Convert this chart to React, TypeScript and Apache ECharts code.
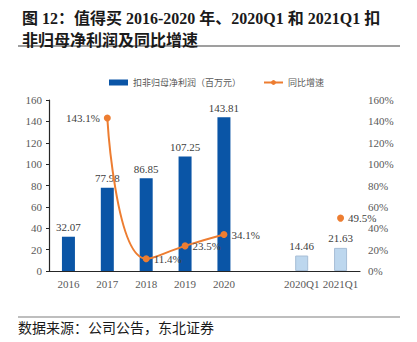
import React, { useEffect, useRef } from "react";
import * as echarts from "echarts";

const categories = ["2016", "2017", "2018", "2019", "2020", "", "2020Q1", "2021Q1"];
const netProfit = [32.07, 77.98, 86.85, 107.25, 143.81, null, 14.46, 21.63];
const growth = [null, 143.1, 11.4, 23.5, 34.1, null, null, 49.5];
const leftTicks = { min: 0, max: 160, interval: 20 };
const rightTicks = { min: 0, max: 160, interval: 20 };

const titleText = "图 12：值得买 2016-2020 年、2020Q1 和 2021Q1 扣\n非归母净利润及同比增速";
const sourceText = "数据来源：公司公告，东北证券";
const barName = "扣非归母净利润（百万元）";
const lineName = "同比增速";

const SERIF = "'Liberation Serif', 'Times New Roman', 'Noto Serif CJK SC', 'Noto Sans CJK SC', serif";
const CJK = "'Liberation Serif', 'Noto Sans CJK SC', sans-serif";

export default function App() {
  const ref = useRef<HTMLDivElement>(null);
  useEffect(() => {
    if (!ref.current) return;
    const chart = echarts.init(ref.current, undefined, { renderer: "svg" });
    const barData = netProfit.map((v, i) => {
      const isQ = categories[i].includes("Q1");
      return {
        value: v,
        itemStyle: isQ
          ? { color: "#BDD7EE", borderColor: "#A6BDD6", borderWidth: 1 }
          : { color: "#0A55A6" },
      };
    });
    chart.setOption({
      animation: false,
      title: {
        text: titleText,
        left: 17,
        top: 2,
        textStyle: {
          fontFamily: CJK,
          fontWeight: "bold",
          fontSize: 16,
          lineHeight: 22,
          color: "#1a1a1a",
        },
      },
      graphic: [
        {
          type: "line",
          shape: { x1: 18, y1: 46, x2: 400, y2: 46 },
          style: { stroke: "#7f7f7f", lineWidth: 1.5 },
        },
        {
          type: "line",
          shape: { x1: 18, y1: 317, x2: 400, y2: 317 },
          style: { stroke: "#7f7f7f", lineWidth: 1.2 },
        },
        {
          type: "text",
          left: 18,
          top: 321,
          style: {
            text: sourceText,
            fontFamily: CJK,
            fontSize: 14,
            fill: "#1a1a1a",
          },
        },
      ],
      legend: {
        left: 104,
        top: 73,
        itemGap: 22,
        itemWidth: 19,
        itemHeight: 6,
        textStyle: { fontSize: 9, color: "#595959", fontFamily: CJK },
        data: [
          { name: barName, icon: "rect" },
          { name: lineName },
        ],
      },
      grid: { left: 49, right: 57, top: 100, bottom: 71, containLabel: false },
      xAxis: {
        type: "category",
        data: categories,
        axisLine: { lineStyle: { color: "#262626", width: 1.2 } },
        axisTick: { show: false },
        axisLabel: {
          fontFamily: SERIF,
          fontSize: 11,
          color: "#595959",
          margin: 7,
          interval: 0,
        },
      },
      yAxis: [
        {
          type: "value",
          ...leftTicks,
          axisLine: { show: true, lineStyle: { color: "#262626", width: 1.2 } },
          axisTick: { show: true, length: 3, lineStyle: { color: "#262626" } },
          splitLine: { show: false },
          axisLabel: { fontFamily: SERIF, fontSize: 11, color: "#595959", margin: 7 },
        },
        {
          type: "value",
          ...rightTicks,
          axisLine: { show: false },
          axisTick: { show: false },
          splitLine: { show: false },
          axisLabel: {
            fontFamily: SERIF,
            fontSize: 11,
            color: "#595959",
            margin: 8,
            formatter: "{value}%",
          },
        },
      ],
      series: [
        {
          name: barName,
          type: "bar",
          data: barData,
          barWidth: 13,
          itemStyle: { color: "#0A55A6" },
          label: {
            show: true,
            position: "top",
            distance: 4,
            fontFamily: SERIF,
            fontSize: 11,
            color: "#404040",
            formatter: (p: any) => (p.value == null ? "" : Number(p.value).toFixed(2)),
          },
        },
        {
          name: lineName,
          type: "line",
          yAxisIndex: 1,
          data: growth.map((v, i) => ({
            value: v,
            label: { position: i === 1 ? "left" : "right" },
          })),
          smooth: 0.5,
          connectNulls: false,
          showAllSymbol: true,
          symbol: "circle",
          symbolSize: 7,
          lineStyle: { color: "#ED7D31", width: 2 },
          itemStyle: { color: "#ED7D31" },
          label: {
            show: true,
            distance: 4,
            fontFamily: SERIF,
            fontSize: 11,
            color: "#404040",
            formatter: (p: any) => (p.value == null ? "" : Number(p.value).toFixed(1) + "%"),
          },
        },
      ],
    });
    return () => chart.dispose();
  }, []);
  return (
    <div
      ref={ref}
      style={{ position: "fixed", left: 0, top: 0, width: 417, height: 342, background: "#fff" }}
    />
  );
}
